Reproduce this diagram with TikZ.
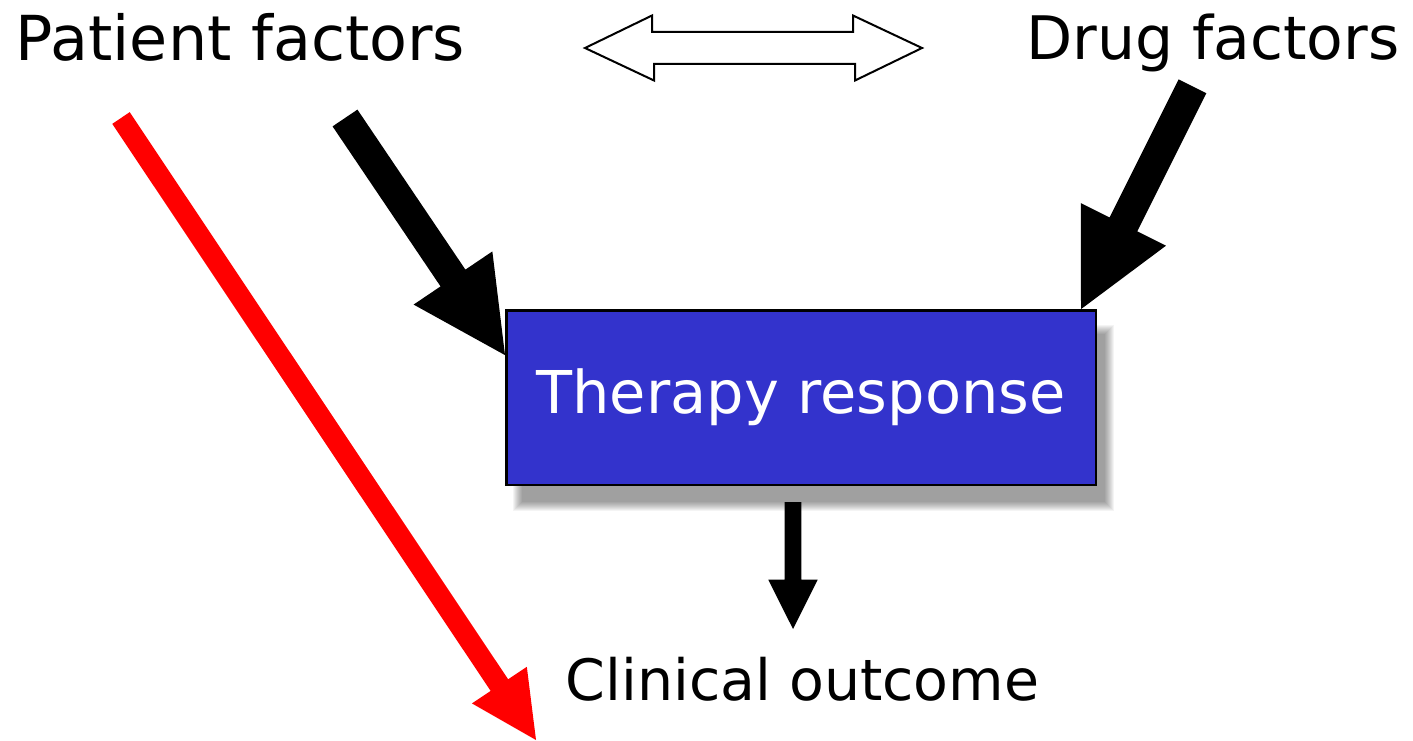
\documentclass[tikz,border=0pt]{standalone}
\usepackage{fontspec}
\setmainfont{DejaVu Sans}
\usetikzlibrary{calc}
\definecolor{boxblue}{HTML}{3333CC}
\definecolor{arrowred}{HTML}{FF0000}
\pgfdeclarelayer{bglayer}
\pgfdeclarelayer{shadowlayer}
\pgfsetlayers{bglayer,shadowlayer,main}
% block arrow: style, start, tip, half shaft width, half head width, head length
\newcommand{\blockarrow}[6]{%
  \coordinate (bahead) at ($(#3)!#6!(#2)$);
  \path[#1] ($(#2)!#4!90:(#3)$) -- ($(bahead)!#4!90:(#3)$) -- ($(bahead)!#5!90:(#3)$) -- (#3)
    -- ($(bahead)!#5!-90:(#3)$) -- ($(bahead)!#4!-90:(#3)$) -- ($(#2)!#4!-90:(#3)$) -- cycle;
}
\begin{document}
\begin{tikzpicture}[x=1pt,y=-1pt,
  lbl/.style={inner sep=0pt, anchor=base, text=black},
  blackarrow/.style={fill=black},
  redarrow/.style={fill=arrowred},
  outlinearrow/.style={draw=black, line width=2pt, fill=white, line join=miter},
  shadowlayerstyle/.style={fill=black, opacity=0.045},
  respbox/.style={draw=black, line width=2.5pt, fill=boxblue, text=white, inner sep=0pt,
    minimum width=589.5pt, minimum height=174.5pt}]
\begin{pgfonlayer}{bglayer}
\fill[white] (0,0) rectangle (1413,741);
\end{pgfonlayer}
\useasboundingbox (0,0) rectangle (1413,741);

\node[lbl, font=\fontsize{62}{70}\selectfont] (pf) at (240.5,61) {Patient factors};
\node[lbl, font=\fontsize{60}{70}\selectfont] (df) at (1213,60) {Drug factors};
\node[lbl, font=\fontsize{57}{66}\selectfont] (co) at (802.5,700) {Clinical outcome};
\node[respbox, font=\fontsize{59}{66}\selectfont] (tr) at (801,397.6) {Therapy response};

% soft drop shadow of the box
\begin{pgfonlayer}{shadowlayer}
\foreach \d in {-4.5,-3.5,...,4.5} {
  \fill[shadowlayerstyle] ($(tr.north west)+(12.5+\d,20.5+\d)$) rectangle ($(tr.south east)+(12.5-\d,20.5-\d)$);
}
\end{pgfonlayer}

% double arrow between patient and drug factors
\coordinate (dl) at (585,48);
\coordinate (dr) at (922,48);
\draw[outlinearrow] (dl) -- ++(67,-32.5) -- ++(0,16.5) -- ++(201,0) -- ++(0,-16.5)
  -- (dr) -- ++(-67,32.5) -- ++(0,-16.5) -- ++(-201,0) -- ++(0,16.5) -- cycle;

% connectors
\coordinate (pfs) at (345,118);
\coordinate (pft) at ([yshift=-46pt]tr.north west);
\coordinate (dfs) at (1192.5,86.3);
\coordinate (dft) at ([xshift=-16pt]tr.north east);
\coordinate (rs) at (121,118);
\coordinate (rt) at (536,740);
\coordinate (ds) at ([xshift=-8pt,yshift=-16pt]tr.south);
\coordinate (dt) at (793,629);

\blockarrow{redarrow}{rs}{rt}{10.5pt}{33pt}{66pt}
\blockarrow{blackarrow}{pfs}{pft}{15pt}{47.5pt}{93pt}
\blockarrow{blackarrow}{dfs}{dft}{15.5pt}{47.6pt}{94.7pt}
\blockarrow{blackarrow}{ds}{dt}{8.3pt}{24.7pt}{49.3pt}
\end{tikzpicture}
\end{document}
